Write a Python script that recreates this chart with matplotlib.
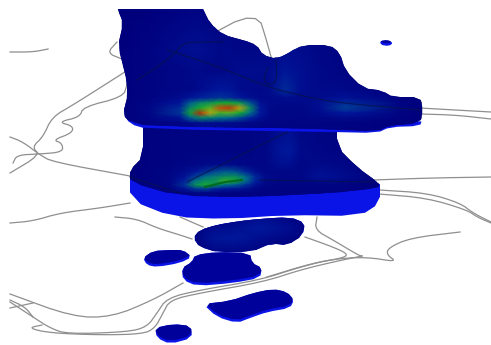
import matplotlib
matplotlib.use('Agg')
import matplotlib.pyplot as plt
import numpy as np
from matplotlib.colors import LinearSegmentedColormap
from matplotlib.patches import Polygon
from matplotlib.transforms import Affine2D

# outlines, in pixels
upper_top = [(118, 9), (118, 9), (203, 9), (203, 9), (210, 23), (223, 35), (243, 40), (257, 45), (263, 55), (277, 59),
             (290, 52), (303, 45), (330, 45), (340, 53), (345, 70), (363, 88), (383, 91), (393, 97),
             (420, 97), (423, 110), (420, 123), (390, 125), (377, 131), (333, 129), (147, 126),
             (130, 121), (123, 115), (128, 93), (125, 72), (118, 47), (123, 23)]
upper_wall = [(123, 113), (130, 120), (147, 125), (333, 128), (377, 130), (390, 124), (422, 120),
              (420, 126), (390, 127), (377, 133), (333, 132), (147, 129), (130, 124)]
lower_top = [(143, 115), (337, 115), (337, 147), (357, 167), (379, 183), (379, 188), (330, 193),
             (250, 197), (175, 195), (130, 182), (130, 170), (143, 157)]
lower_wall = [(130, 170), (175, 185), (250, 185), (330, 180), (380, 178), (380, 203), (360, 216),
              (287, 215), (227, 219), (173, 217), (130, 200)]

blob_a = [(193, 238), (200, 230), (217, 225), (227, 223), (257, 219), (290, 217), (305, 223),
          (303, 235), (287, 245), (273, 243), (250, 252), (217, 252), (200, 247)]
blob_b = [(143, 258), (153, 251), (170, 250), (183, 250), (192, 257), (180, 263), (157, 267), (147, 265)]
blob_c = [(195, 255), (217, 252), (250, 253), (252, 263), (262, 268), (260, 278), (233, 283),
          (197, 286), (183, 280), (182, 268), (192, 262)]
blob_d = [(203, 304), (230, 301), (253, 293), (273, 289), (287, 292), (294, 300), (290, 308),
          (267, 312), (250, 318), (237, 323), (217, 317)]
blob_e = [(155, 328), (173, 324), (191, 326), (192, 338), (170, 344), (157, 338)]
blob_f = [(380, 41), (388, 40), (393, 43), (389, 46), (381, 45)]
blobs = [blob_a, blob_b, blob_c, blob_d, blob_e, blob_f]

upper_x = [118, 150, 180, 190, 200, 210, 220, 230, 240, 250, 260, 270, 285, 300, 320, 345, 400, 423]
upper_y = [8, 50, 70, 90, 98, 103, 108, 113, 118, 123, 133]
upper_v = [
    [.00, .00, .02, .02, .02, .02, .02, .02, .02, .02, .02, .02, .02, .02, .02, .02, .00, .00],
    [.00, .03, .08, .10, .10, .08, .06, .06, .05, .05, .05, .06, .08, .08, .05, .03, .00, .00],
    [.00, .03, .05, .06, .06, .05, .05, .06, .08, .08, .08, .08, .14, .10, .06, .03, .00, .00],
    [.00, .03, .05, .05, .08, .12, .15, .14, .08, .06, .06, .08, .20, .10, .06, .06, .00, .00],
    [.00, .03, .08, .14, .18, .20, .22, .20, .15, .10, .07, .06, .09, .07, .08, .12, .02, .00],
    [.00, .04, .14, .30, .40, .44, .50, .50, .44, .28, .12, .06, .06, .06, .10, .20, .03, .00],
    [.00, .05, .20, .40, .50, .58, .90, .94, .72, .42, .16, .06, .05, .05, .10, .24, .04, .00],
    [.00, .05, .22, .48, .96, .70, .56, .58, .50, .34, .16, .06, .05, .05, .08, .16, .03, .00],
    [.00, .04, .12, .30, .40, .38, .34, .32, .26, .18, .10, .05, .04, .04, .05, .07, .02, .00],
    [.00, .02, .05, .07, .09, .09, .08, .08, .07, .05, .04, .03, .03, .03, .03, .03, .00, .00],
    [.00, .00, .02, .02, .02, .02, .02, .02, .02, .02, .02, .02, .02, .02, .02, .02, .00, .00],
]
lower_x = [130, 170, 185, 195, 205, 215, 225, 235, 245, 255, 265, 280, 290, 300, 320, 345, 380]
lower_y = [115, 150, 165, 172, 177, 181, 185, 189, 193, 200]
lower_v = [
    [.00, .03, .03, .03, .03, .03, .03, .03, .03, .03, .03, .04, .05, .04, .03, .03, .00],
    [.00, .03, .03, .03, .03, .03, .03, .03, .03, .04, .05, .14, .16, .07, .04, .03, .00],
    [.00, .03, .04, .05, .06, .07, .07, .06, .05, .04, .04, .10, .09, .05, .07, .05, .00],
    [.00, .04, .08, .14, .20, .26, .30, .28, .20, .10, .05, .05, .05, .05, .10, .07, .00],
    [.00, .04, .12, .24, .34, .38, .42, .44, .34, .20, .08, .04, .04, .05, .12, .08, .00],
    [.00, .04, .18, .34, .42, .44, .54, .48, .34, .18, .07, .04, .04, .04, .07, .05, .00],
    [.00, .04, .22, .42, .50, .42, .34, .30, .22, .12, .05, .03, .03, .03, .03, .03, .00],
    [.00, .03, .12, .22, .24, .18, .14, .12, .09, .05, .03, .02, .02, .02, .02, .02, .00],
    [.00, .02, .03, .04, .04, .04, .03, .03, .03, .02, .02, .02, .02, .02, .02, .02, .00],
    [.00, .00, .00, .00, .00, .00, .00, .00, .00, .00, .00, .00, .00, .00, .00, .00, .00],
]
glow_x = [193, 215, 235, 260, 285, 305]
glow_y = [217, 228, 238, 252]
glow_v = [
    [.02, .02, .05, .08, .05, .02],
    [.02, .08, .10, .16, .10, .03],
    [.02, .14, .16, .09, .05, .02],
    [.02, .04, .04, .03, .02, .02],
]

# thin grey map lines
roads = [
    [(10, 52), (33, 52), (48, 49)],
    [(117, 42), (107, 53), (122, 59)],
    [(197, 42), (257, 10), (268, 45), (277, 80)],
    [(128, 70), (73, 105), (52, 117), (43, 137), (32, 147), (40, 155), (10, 173)],
    [(127, 85), (123, 97), (83, 107), (80, 117), (58, 122), (73, 126), (72, 133), (53, 140),
     (62, 143), (63, 152), (40, 154), (17, 155), (13, 163)],
    [(10, 137), (23, 142), (40, 155), (53, 162), (130, 176)],
    [(373, 180), (430, 178), (491, 177)],
    [(420, 108), (455, 110), (491, 112)],
    [(420, 114), (455, 115), (491, 119)],
    [(379, 190), (427, 193), (460, 203), (473, 213), (491, 222)],
    [(379, 194), (427, 198), (467, 210), (477, 217), (491, 223)],
    [(10, 223), (33, 221), (60, 213), (100, 208), (130, 203)],
    [(115, 217), (137, 219), (157, 228), (180, 235), (192, 239)],
    [(180, 217), (203, 227)],
    [(305, 237), (333, 247), (348, 254), (343, 258), (313, 263), (267, 277)],
    [(317, 217), (315, 230), (333, 240), (358, 255), (362, 256)],
    [(460, 232), (410, 238), (388, 248), (387, 255), (397, 262), (367, 257), (333, 259),
     (300, 267), (260, 280), (200, 290), (167, 298), (157, 313), (147, 327), (127, 332),
     (67, 334), (50, 328), (33, 317), (10, 302)],
    [(362, 256), (333, 262), (300, 270), (263, 282), (200, 293), (170, 300), (163, 313),
     (155, 328), (143, 334), (100, 335), (50, 333), (28, 328), (42, 325)],
    [(10, 294), (73, 317), (112, 317), (153, 300), (183, 283)],
    [(10, 308), (33, 303)],
    [(10, 300), (25, 307), (33, 317)],
]
# the same lines where they cross the heat layer
dark_lines = [
    [(137, 80), (172, 57), (183, 43), (197, 42), (223, 42)],
    [(167, 50), (220, 67), (267, 87), (307, 97), (340, 103), (420, 110)],
    [(268, 68), (263, 78), (268, 85), (277, 82), (276, 60)],
    [(130, 177), (180, 193)],
    [(187, 182), (287, 132)],
    [(260, 180), (373, 182)],
]
core_line = [(205, 187), (225, 182), (242, 180)]

heat_colors = ['#00007d', '#001a9e', '#006e8c', '#14a832', '#a8b814', '#dc6e0a', '#aa1e0a']
wall_color = '#0a14e6'
top_color = '#00007d'
blob_color = '#00009a'
road_color = '#8f8f8f'


def smooth(points, closed=False, rounds=1):
    # corner cutting so the hand read outlines are not angular
    pts = np.array(points, dtype=float)
    for _ in range(rounds):
        nxt = np.roll(pts, -1, axis=0) if closed else pts[1:]
        cur = pts if closed else pts[:-1]
        q = 0.75 * cur + 0.25 * nxt
        r = 0.25 * cur + 0.75 * nxt
        new = np.empty((len(q) * 2, 2))
        new[0::2] = q
        new[1::2] = r
        if not closed:
            new = np.vstack([pts[0], new, pts[-1]])
        pts = new
    return pts


def heat_layer(ax, xs, ys, vals, outline, cmap):
    mesh = ax.pcolormesh(xs, ys, np.array(vals), shading='gouraud', cmap=cmap, vmin=0, vmax=1, zorder=3)
    clip = Polygon(smooth(outline, True), closed=True, transform=ax.transData, fc='none', ec='none')
    ax.add_patch(clip)
    mesh.set_clip_path(clip)
    return mesh


def main():
    fig = plt.figure(figsize=(4.91, 3.45), dpi=100)
    ax = fig.add_axes([0, 0, 1, 1])
    ax.set_xlim(0, 491)
    ax.set_ylim(345, 0)
    ax.axis('off')
    cmap = LinearSegmentedColormap.from_list('heat', heat_colors)

    for road in roads:
        pts = smooth(road, rounds=2)
        ax.plot(pts[:, 0], pts[:, 1], color=road_color, lw=0.9, zorder=1)

    ax.add_patch(Polygon(smooth(lower_wall, True), closed=True, fc=wall_color, ec='none', zorder=2))
    ax.add_patch(Polygon(smooth(lower_top, True), closed=True, fc=top_color, ec='none', zorder=2.5))
    heat_layer(ax, lower_x, lower_y, lower_v, lower_top, cmap)
    ax.add_patch(Polygon(smooth(upper_wall, True), closed=True, fc=wall_color, ec='none', zorder=4))
    ax.add_patch(Polygon(smooth(upper_top, True), closed=True, fc=top_color, ec='none', zorder=4))
    mesh = heat_layer(ax, upper_x, upper_y, upper_v, upper_top, cmap)
    mesh.set_zorder(4.5)

    for blob in blobs:
        outline = smooth(blob, True)
        wall = Polygon(outline, closed=True, fc=wall_color, ec='none', zorder=5)
        ax.add_patch(wall)
        # top face sits a little above the side wall
        shift = Affine2D().translate(0, -2.5) + ax.transData
        top = Polygon(outline, closed=True, fc=blob_color, ec='none', zorder=5.5, transform=shift)
        ax.add_patch(top)
        top.set_clip_path(wall)
    glow = heat_layer(ax, glow_x, glow_y, glow_v, blob_a, cmap)
    glow.set_zorder(6)

    for line in dark_lines:
        pts = smooth(line, rounds=2)
        ax.plot(pts[:, 0], pts[:, 1], color='#06124f', lw=0.9, alpha=0.75, zorder=7)
    cx, cy = zip(*core_line)
    ax.plot(cx, cy, color='#006414', lw=1.6, alpha=0.8, zorder=7)

    fig.savefig('out.png', dpi=100, facecolor='white')


if __name__ == "__main__":
    main()
